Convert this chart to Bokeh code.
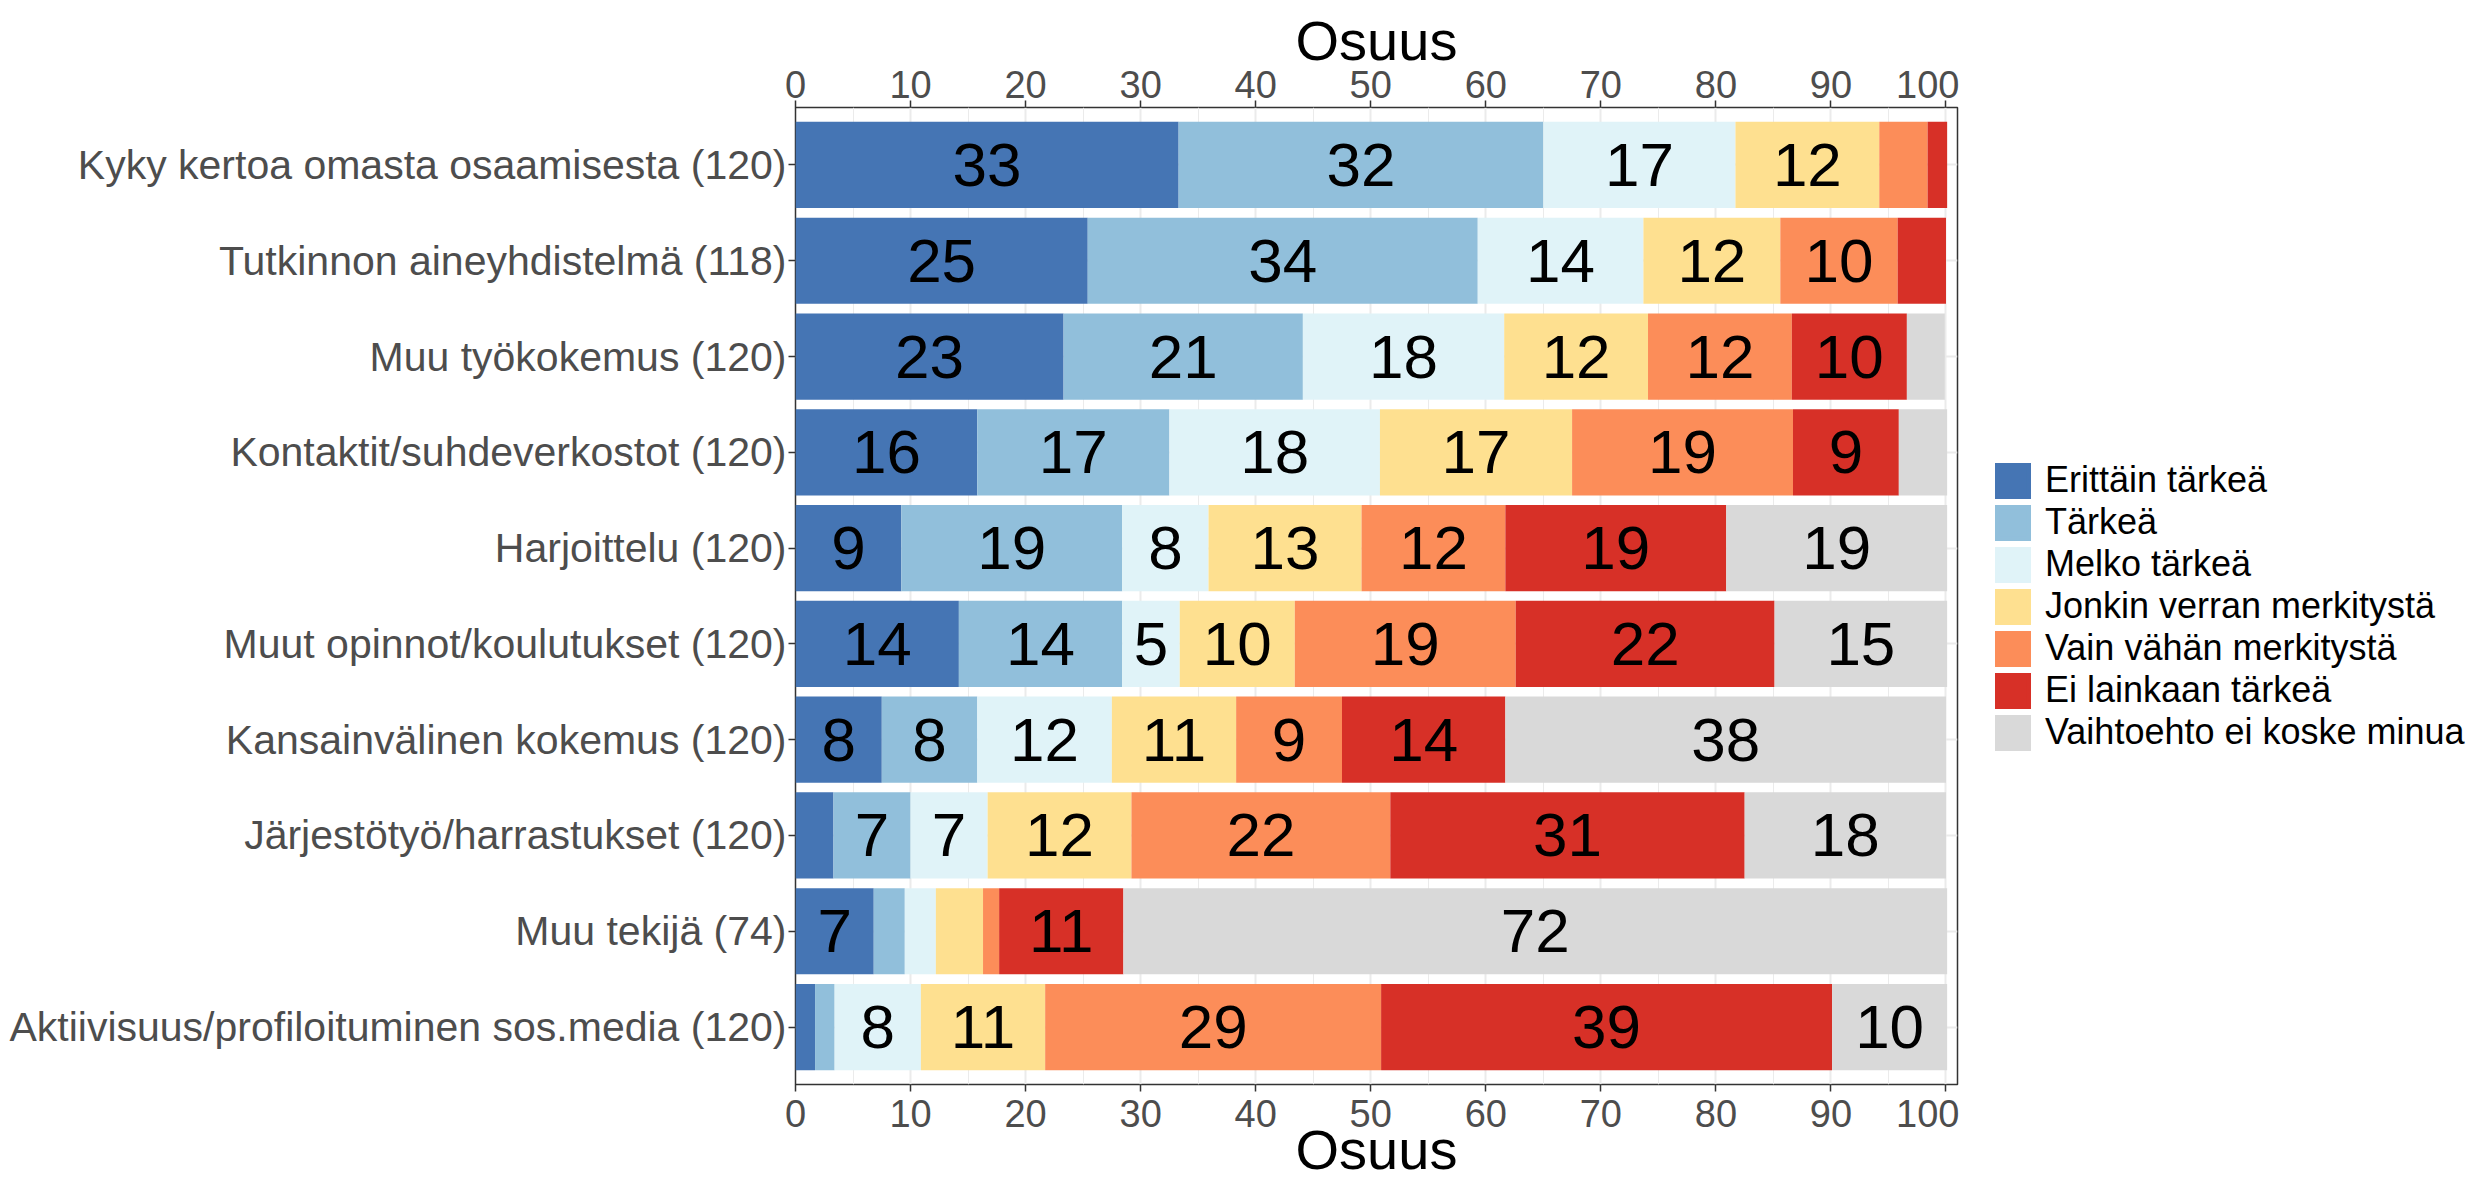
from bokeh.plotting import figure
from bokeh.layouts import row, column
from bokeh.models import (ColumnDataSource, FixedTicker, Legend, LegendItem, LinearAxis,
                          Range1d, Spacer)
from bokeh.core.properties import value
from bokeh.embed import file_html
from bokeh.resources import INLINE

categories = [
    "Kyky kertoa omasta osaamisesta (120)",
    "Tutkinnon aineyhdistelmä (118)",
    "Muu työkokemus (120)",
    "Kontaktit/suhdeverkostot (120)",
    "Harjoittelu (120)",
    "Muut opinnot/koulutukset (120)",
    "Kansainvälinen kokemus (120)",
    "Järjestötyö/harrastukset (120)",
    "Muu tekijä (74)",
    "Aktiivisuus/profiloituminen sos.media (120)",
]

series = [
    "Erittäin tärkeä",
    "Tärkeä",
    "Melko tärkeä",
    "Jonkin verran merkitystä",
    "Vain vähän merkitystä",
    "Ei lainkaan tärkeä",
    "Vaihtoehto ei koske minua",
]
colors = ["#4575B4", "#91BFDB", "#E0F3F8", "#FEE090", "#FC8D59", "#D73027", "#D9D9D9"]

erittain_tarkea = [33.3, 25.4, 23.3, 15.8, 9.2, 14.2, 7.5, 3.3, 6.8, 1.7]
tarkea = [31.7, 33.9, 20.8, 16.7, 19.2, 14.2, 8.3, 6.7, 2.7, 1.7]
melko_tarkea = [16.7, 14.4, 17.5, 18.3, 7.5, 5.0, 11.7, 6.7, 2.7, 7.5]
jonkin_verran = [12.5, 11.9, 12.5, 16.7, 13.3, 10.0, 10.8, 12.5, 4.1, 10.8]
vain_vahan = [4.2, 10.2, 12.5, 19.2, 12.5, 19.2, 9.2, 22.5, 1.4, 29.2]
ei_lainkaan = [1.7, 4.2, 10.0, 9.2, 19.2, 22.5, 14.2, 30.8, 10.8, 39.2]
ei_koske = [0.0, 0.0, 3.3, 4.2, 19.2, 15.0, 38.3, 17.5, 71.6, 10.0]

x_ticks = [0, 10, 20, 30, 40, 50, 60, 70, 80, 90, 100]
x_minor = [5, 15, 25, 35, 45, 55, 65, 75, 85, 95]
axis_title = "Osuus"

values = [erittain_tarkea, tarkea, melko_tarkea, jonkin_verran, vain_vahan, ei_lainkaan, ei_koske]
keys = ["s%d" % i for i in range(len(series))]
n = len(categories)
ys = [n - i for i in range(n)]

data = {"y": ys}
for k, v in zip(keys, values):
    data[k] = v
source = ColumnDataSource(data)

FONT = "Liberation Sans"
FIG_H = 1188

p = figure(
    frame_width=1162, frame_height=977,
    x_range=Range1d(0, 101), y_range=Range1d(0.4, n + 0.6),
    output_backend="svg", toolbar_location=None,
    x_axis_location="below",
    min_border_left=795, min_border_right=2, min_border_top=107, min_border_bottom=104,
)
p.background_fill_color = "white"
p.border_fill_color = "white"
p.outline_line_color = "#333333"
p.outline_line_width = 1.5

renderers = p.hbar_stack(keys, y="y", height=0.9, source=source,
                         fill_color=colors, line_color=None)

top_axis = LinearAxis()
p.add_layout(top_axis, "above")

xt = FixedTicker(ticks=x_ticks, minor_ticks=x_minor)
for ax in p.xaxis:
    ax.ticker = xt
    ax.axis_line_color = None
    ax.major_tick_out = 7
    ax.major_tick_in = 0
    ax.major_tick_line_color = "#333333"
    ax.major_tick_line_width = 1.5
    ax.minor_tick_line_color = None
    ax.minor_tick_out = 0
    ax.major_label_text_font = FONT
    ax.major_label_text_font_size = "38px"
    ax.major_label_text_color = "#4D4D4D"
    ax.axis_label = axis_title
    ax.axis_label_text_font = FONT
    ax.axis_label_text_font_size = "56px"
    ax.axis_label_text_font_style = "normal"
    ax.axis_label_text_color = "black"

bottom_axis = p.below[0]
bottom_axis.major_label_standoff = 8
bottom_axis.axis_label_standoff = -12
top_axis.major_label_standoff = 3
top_axis.axis_label_standoff = -4

yax = p.yaxis[0]
yax.ticker = FixedTicker(ticks=ys)
yax.major_label_overrides = {y: c for y, c in zip(ys, categories)}
yax.axis_line_color = None
yax.major_tick_out = 7
yax.major_tick_in = 0
yax.major_tick_line_color = "#333333"
yax.major_tick_line_width = 1.5
yax.minor_tick_line_color = None
yax.minor_tick_out = 0
yax.major_label_text_font = FONT
yax.major_label_text_font_size = "41px"
yax.major_label_text_color = "#4D4D4D"
yax.major_label_standoff = 2

p.xgrid.ticker = xt
p.xgrid.grid_line_color = "#EBEBEB"
p.xgrid.grid_line_width = 2
p.xgrid.minor_grid_line_color = "#EBEBEB"
p.xgrid.minor_grid_line_width = 1
p.ygrid.ticker = FixedTicker(ticks=ys)
p.ygrid.grid_line_color = "#EBEBEB"
p.ygrid.grid_line_width = 2

# segment labels
lx, ly, lt = [], [], []
for r_i in range(n):
    left = 0.0
    for v in values:
        val = v[r_i]
        r = round(val)
        if r >= 5:
            lx.append(left + val / 2)
            ly.append(ys[r_i])
            lt.append(str(r))
        left += val
lab_src = ColumnDataSource(dict(x=lx, y=ly, t=lt))
p.text(x="x", y="y", text="t", source=lab_src, text_align="center", text_baseline="middle",
       text_font=value(FONT), text_font_size=value("62px"), text_color="black")

# legend in its own small figure, placed right of the panel
MAIN_W = 795 + 1162 + 2
LEG_X = 34
LEG_TOP = 459
LEG_W = 2471 - MAIN_W - LEG_X
LEG_H = 330

p2 = figure(width=LEG_W, height=LEG_H, x_range=Range1d(0, 1), y_range=Range1d(0, 1),
            x_axis_location=None, y_axis_location=None, toolbar_location=None,
            output_backend="svg", min_border=0)
p2.outline_line_color = None
p2.xgrid.visible = False
p2.ygrid.visible = False
p2.background_fill_color = "white"
p2.border_fill_color = "white"

leg_renderers = []
for c in colors:
    # hidden bar per series, used only to style its legend key
    r = p2.hbar(y=[0.5], left=[0], right=[1], height=0.5,
                fill_color=c, line_color=c, line_width=4.8, line_join="miter")
    r.visible = False
    leg_renderers.append(r)

items = [LegendItem(label=s, renderers=[r]) for s, r in zip(series, leg_renderers)]
legend = Legend(items=items, location="top_left", orientation="vertical",
                glyph_width=39, glyph_height=39, label_height=39, spacing=0, label_standoff=13,
                label_text_font=FONT, label_text_font_size="36px", label_text_color="black",
                inactive_fill_alpha=0,
                padding=0, margin=0, border_line_color=None, background_fill_alpha=0)
p2.add_layout(legend, "center")

right_col = column(Spacer(width=LEG_X + LEG_W, height=LEG_TOP),
                   row(Spacer(width=LEG_X, height=LEG_H), p2, spacing=0),
                   spacing=0)
layout = row(p, right_col, spacing=0)
open("out.html", "w").write(file_html(layout, INLINE))
